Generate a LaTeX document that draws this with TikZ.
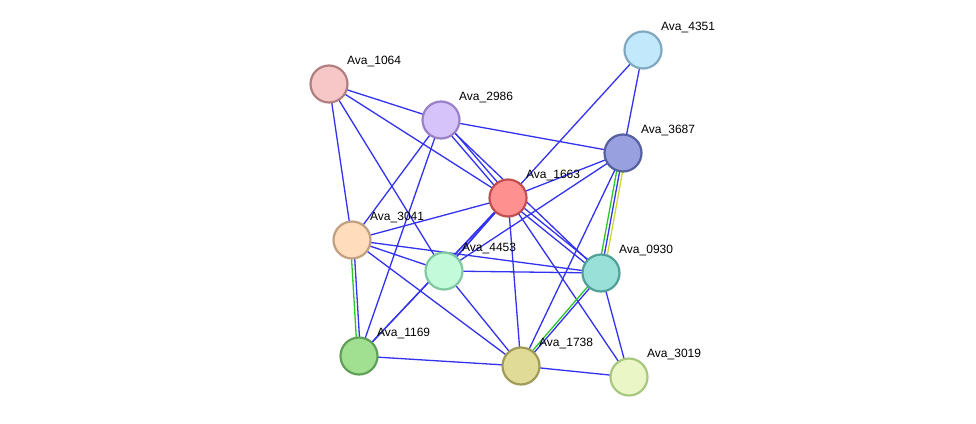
\documentclass[tikz,border=0pt]{standalone}
\usepackage{fontspec}
\setmainfont{Liberation Sans}
\begin{document}
\begin{tikzpicture}[x=1pt,y=-1pt,
  prot/.style={circle,minimum size=37pt,inner sep=0pt,line width=2.2pt},
  lab/.style={font=\fontsize{12}{12}\selectfont,anchor=south west,inner sep=0pt},
  e/.style={draw={rgb,255:red,50;green,50;blue,240},line width=1.3pt},
  g/.style={draw={rgb,255:red,40;green,200;blue,40},line width=1.3pt},
  yl/.style={draw={rgb,255:red,200;green,220;blue,40},line width=1.3pt}]
\useasboundingbox[fill=white] (0,0) rectangle (976,423);
\coordinate (p1064) at (329,84);
\coordinate (p2986) at (441,120);
\coordinate (p4351) at (643,50);
\coordinate (p3687) at (623,153);
\coordinate (p1663) at (508,198);
\coordinate (p3041) at (352,240);
\coordinate (p4453) at (444,271);
\coordinate (p0930) at (601,273);
\coordinate (p1169) at (359,356);
\coordinate (p1738) at (521,366);
\coordinate (p3019) at (629,377);
% edges
\foreach \a/\b in {1064/2986,1064/1663,1064/3041,1064/4453,2986/0930,2986/3687,2986/3041,2986/1169,
  4351/1663,4351/3687,3687/1663,3687/4453,3687/1738,1663/3041,1663/1738,1663/3019,
  3041/4453,3041/0930,3041/1738,4453/0930,4453/1738,0930/3019,1169/1738,1738/3019}
  \path[e] (p\a) -- (p\b);
\foreach \a/\b in {2986/1663,1663/4453,1663/1169,1663/0930}{
  \path[e,transform canvas={shift={(1.6pt,1.6pt)}}] (p\a) -- (p\b);
  \path[e,transform canvas={shift={(-1.6pt,-1.6pt)}}] (p\a) -- (p\b);}
\path[g,transform canvas={xshift=-1.6pt}] (p3041) -- (p1169);
\path[e,transform canvas={xshift=1.6pt}] (p3041) -- (p1169);
\path[g,transform canvas={xshift=-1.6pt}] (p0930) -- (p1738);
\path[e,transform canvas={xshift=1.6pt}] (p0930) -- (p1738);
\path[g,transform canvas={xshift=-3pt}] (p3687) -- (p0930);
\path[e] (p3687) -- (p0930);
\path[yl,transform canvas={xshift=3pt}] (p3687) -- (p0930);
% nodes
\foreach \n/\f/\d in {1064/F7C6C6/B08080,2986/D4C4FA/9A80C8,4351/C2E8FC/80A8C0,3687/98A0E0/5560A0,
  1663/FF9090/C05050,3041/FFDCBA/C0A080,4453/C2FADA/80C8A0,0930/98E0D8/50A098,
  1169/A0E090/60A058,1738/E0DC98/A09C58,3019/EAF6C6/A8C880}{
  \definecolor{fc}{HTML}{\f}\definecolor{dc}{HTML}{\d}
  \node[prot,fill=fc,draw=dc] (n\n) at (p\n) {};
  \node[lab] (l\n) at ([xshift=18pt,yshift=17pt]p\n) {Ava\_\n};}
\end{tikzpicture}
\end{document}
